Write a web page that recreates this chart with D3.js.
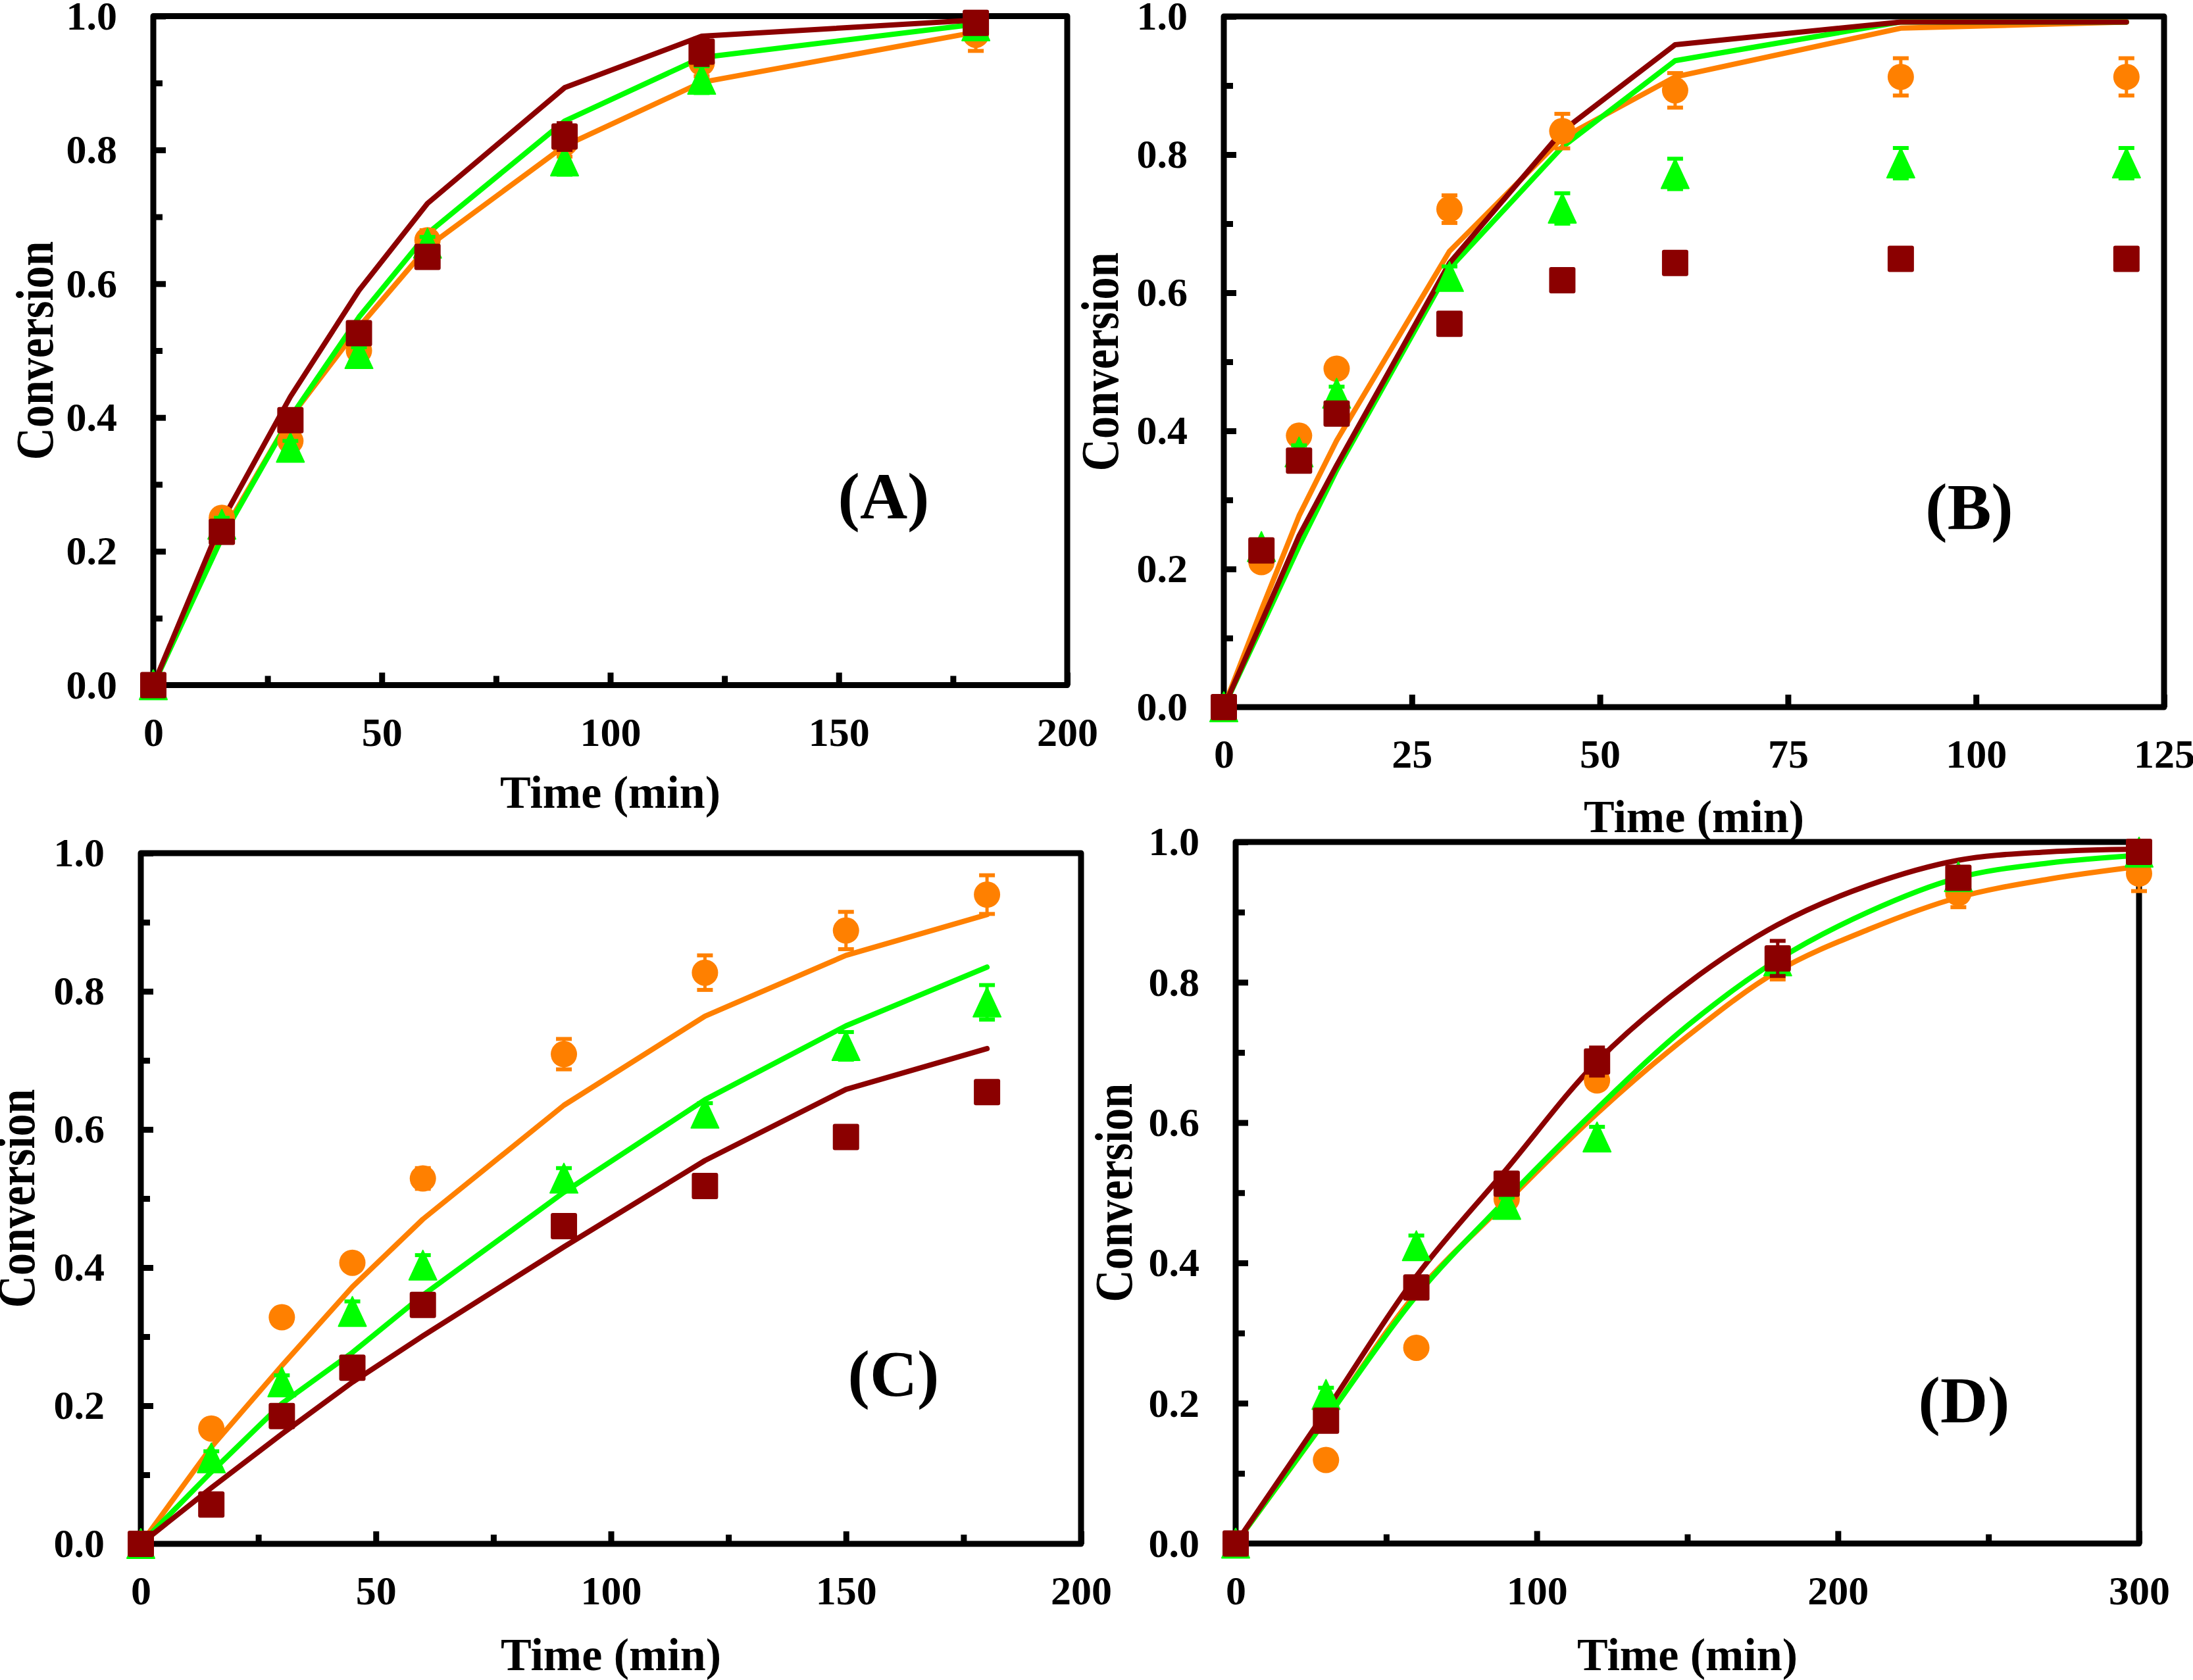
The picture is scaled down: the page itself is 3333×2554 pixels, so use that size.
<!DOCTYPE html>
<html>
<head>
<meta charset="utf-8">
<script src="https://cdn.jsdelivr.net/npm/d3@7"></script>
<style>
  html, body { margin: 0; padding: 0; background: #ffffff; }
  svg { display: block; }
  text { font-family: "Liberation Serif", "Times New Roman", serif; font-weight: bold; fill: #000; }
</style>
</head>
<body>
<svg id="chart" width="3333" height="2554"></svg>
<script>
// ---------------- DATA ----------------
const seriesNames = ["orange", "green", "darkred"];
const seriesColors = ["#FF8000", "#00FF00", "#8B0000"];
const yTickLabels = ["0.0", "0.2", "0.4", "0.6", "0.8", "1.0"];

// Panel A
const timeA = [0, 15, 30, 45, 60, 90, 120, 180];
const dataA_orange  = [0, 0.250, 0.365, 0.500, 0.665, 0.810, 0.930, 0.972];
const errA_orange   = [0, 0.010, 0.010, 0.010, 0.015, 0.020, 0.020, 0.024];
const dataA_green   = [0, 0.240, 0.355, 0.495, 0.660, 0.783, 0.905, 0.985];
const errA_green    = [0, 0.010, 0.010, 0.010, 0.010, 0.020, 0.020, 0.010];
const dataA_darkred = [0, 0.229, 0.396, 0.526, 0.640, 0.820, 0.947, 0.990];
const errA_darkred  = [0, 0.010, 0.010, 0.010, 0.012, 0.020, 0.020, 0.010];
const modelA_orange  = [0, 0.225, 0.400, 0.535, 0.655, 0.806, 0.901, 0.976];
const modelA_green   = [0, 0.220, 0.400, 0.550, 0.675, 0.843, 0.938, 0.988];
const modelA_darkred = [0, 0.245, 0.431, 0.590, 0.720, 0.893, 0.970, 0.994];

// Panel B
const timeB = [0, 5, 10, 15, 30, 45, 60, 90, 120];
const dataB_orange  = [0, 0.210, 0.393, 0.490, 0.721, 0.834, 0.893, 0.9125, 0.9125];
const errB_orange   = [0, 0.010, 0.010, 0.010, 0.020, 0.025, 0.025, 0.027, 0.027];
const dataB_green   = [0, 0.232, 0.369, 0.454, 0.623, 0.722, 0.772, 0.7875, 0.7875];
const errB_green    = [0, 0.010, 0.010, 0.010, 0.015, 0.022, 0.022, 0.022, 0.022];
const dataB_darkred = [0, 0.227, 0.357, 0.425, 0.555, 0.618, 0.643, 0.649, 0.649];
const errB_darkred  = [0, 0.005, 0.005, 0.005, 0.005, 0.010, 0.010, 0.010, 0.010];
const modelB_orange  = [0, 0.141, 0.277, 0.386, 0.660, 0.824, 0.9125, 0.983, 0.992];
const modelB_green   = [0, 0.116, 0.233, 0.343, 0.635, 0.811, 0.936, 0.992, 0.992];
const modelB_darkred = [0, 0.123, 0.248, 0.350, 0.643, 0.834, 0.959, 0.992, 0.992];

// Panel C
const timeC = [0, 15, 30, 45, 60, 90, 120, 150, 180];
const dataC_orange  = [0, 0.167, 0.328, 0.407, 0.529, 0.709, 0.827, 0.888, 0.940];
const errC_orange   = [0, 0.005, 0.005, 0.005, 0.015, 0.022, 0.025, 0.027, 0.028];
const dataC_green   = [0, 0.124, 0.234, 0.336, 0.403, 0.529, 0.623, 0.721, 0.784];
const errC_green    = [0, 0.010, 0.010, 0.015, 0.015, 0.015, 0.015, 0.020, 0.025];
const dataC_darkred = [0, 0.057, 0.185, 0.255, 0.346, 0.460, 0.518, 0.589, 0.654];
const errC_darkred  = [0, 0.005, 0.005, 0.005, 0.005, 0.005, 0.005, 0.010, 0.015];
const modelC_orange  = [0, 0.140, 0.258, 0.372, 0.470, 0.635, 0.764, 0.852, 0.911];
const modelC_green   = [0, 0.104, 0.203, 0.277, 0.360, 0.509, 0.643, 0.750, 0.835];
const modelC_darkred = [0, 0.081, 0.159, 0.234, 0.301, 0.430, 0.555, 0.658, 0.717];

// Panel D
const timeD = [0, 30, 60, 90, 120, 180, 240, 300];
const dataD_orange  = [0, 0.119, 0.279, 0.491, 0.660, 0.824, 0.927, 0.955];
const errD_orange   = [0, 0.005, 0.005, 0.010, 0.010, 0.020, 0.020, 0.025];
const dataD_green   = [0, 0.212, 0.424, 0.483, 0.579, 0.830, 0.950, 0.985];
const errD_green    = [0, 0.010, 0.015, 0.010, 0.015, 0.010, 0.010, 0.010];
const dataD_darkred = [0, 0.175, 0.365, 0.513, 0.687, 0.834, 0.949, 0.986];
const errD_darkred  = [0, 0.005, 0.005, 0.010, 0.020, 0.025, 0.015, 0.010];
const modelTimeD = [0, 30, 60, 90, 120, 150, 180, 210, 240, 270, 300];
const modelD_orange  = [0, 0.177, 0.357, 0.487, 0.613, 0.723, 0.816, 0.875, 0.921, 0.947, 0.965];
const modelD_green   = [0, 0.177, 0.353, 0.491, 0.620, 0.738, 0.832, 0.900, 0.949, 0.970, 0.981];
const modelD_darkred = [0, 0.189, 0.381, 0.534, 0.687, 0.798, 0.882, 0.938, 0.974, 0.986, 0.990];

const panelLabels = ["(A)", "(B)", "(C)", "(D)"];
const xTicksA = [0, 50, 100, 150, 200];
const xTicksB = [0, 25, 50, 75, 100, 125];
const xTicksC = [0, 50, 100, 150, 200];
const xTicksD = [0, 100, 200, 300];

// ---------------- LAYOUT ----------------
const panels = [
  { label: panelLabels[0], l: 233, r: 1622, t: 24.5, b: 1041.5, xmax: 200, xTicks: xTicksA, xMinorStep: 25,
    time: timeA, modelTime: timeA, curve: d3.curveLinear,
    data: [dataA_orange, dataA_green, dataA_darkred], err: [errA_orange, errA_green, errA_darkred],
    model: [modelA_orange, modelA_green, modelA_darkred],
    labelPos: [1343, 788], convX: 80, timeDy: 186 },
  { label: panelLabels[1], l: 1860, r: 3289, t: 25, b: 1075, xmax: 125, xTicks: xTicksB, xMinorStep: 25,
    time: timeB, modelTime: timeB, curve: d3.curveLinear,
    data: [dataB_orange, dataB_green, dataB_darkred], err: [errB_orange, errB_green, errB_darkred],
    model: [modelB_orange, modelB_green, modelB_darkred],
    labelPos: [2993, 804], convX: 1699, timeDy: 190 },
  { label: panelLabels[2], l: 214, r: 1643, t: 1297, b: 2347, xmax: 200, xTicks: xTicksC, xMinorStep: 25,
    time: timeC, modelTime: timeC, curve: d3.curveLinear,
    data: [dataC_orange, dataC_green, dataC_darkred], err: [errC_orange, errC_green, errC_darkred],
    model: [modelC_orange, modelC_green, modelC_darkred],
    labelPos: [1358, 2122], convX: 52, timeDy: 192 },
  { label: panelLabels[3], l: 1878, r: 3251, t: 1280, b: 2346.5, xmax: 300, xTicks: xTicksD, xMinorStep: 50,
    time: timeD, modelTime: modelTimeD, curve: d3.curveCatmullRom.alpha(0.5),
    data: [dataD_orange, dataD_green, dataD_darkred], err: [errD_orange, errD_green, errD_darkred],
    model: [modelD_orange, modelD_green, modelD_darkred],
    labelPos: [2985, 2162], convX: 1720, timeDy: 192 }
];

const svg = d3.select("#chart");
svg.append("rect").attr("width", 3333).attr("height", 2554).attr("fill", "#fff");

const TICK_FONT = 62, TITLE_FONT = 70, LABEL_FONT = 100;

function trianglePath(cx, cy) {
  return `M${cx},${cy - 23}L${cx + 21},${cy + 22}L${cx - 21},${cy + 22}Z`;
}

panels.forEach(p => {
  const g = svg.append("g");
  const x = d3.scaleLinear().domain([0, p.xmax]).range([p.l, p.r]);
  const y = d3.scaleLinear().domain([0, 1]).range([p.b, p.t]);

  const yMinor = d3.range(1, 10, 2).map(i => i / 10);
  const xMinor = d3.range(0, p.xmax + 0.001, p.xMinorStep).filter(v => !p.xTicks.includes(v));

  const yMinorAxis = g.append("g").attr("transform", `translate(${p.l},0)`)
    .call(d3.axisLeft(y).tickValues(yMinor).tickSize(-14).tickFormat(""));
  const yMajorAxis = g.append("g").attr("transform", `translate(${p.l},0)`)
    .call(d3.axisLeft(y).tickValues(yTickLabels.map(Number)).tickSize(-19).tickPadding(55)
      .tickFormat((d, i) => yTickLabels[i]));
  const xMinorAxis = g.append("g").attr("transform", `translate(0,${p.b})`)
    .call(d3.axisBottom(x).tickValues(xMinor).tickSize(-14).tickFormat(""));
  const xMajorAxis = g.append("g").attr("transform", `translate(0,${p.b})`)
    .call(d3.axisBottom(x).tickValues(p.xTicks).tickSize(-19).tickPadding(48).tickFormat(d3.format("d")));

  [yMinorAxis, yMajorAxis, xMinorAxis, xMajorAxis].forEach(a => {
    a.select(".domain").remove();
    a.selectAll(".tick line").attr("stroke", "#000").attr("stroke-width", 9);
    a.selectAll(".tick text").attr("font-size", TICK_FONT).attr("font-family", null).attr("fill", "#000");
  });

  // frame
  g.append("rect")
    .attr("x", p.l).attr("y", p.t).attr("width", p.r - p.l).attr("height", p.b - p.t)
    .attr("fill", "none").attr("stroke", "#000").attr("stroke-width", 9)
    .attr("stroke-linejoin", "round");

  // model lines
  const line = d3.line().x(d => x(d[0])).y(d => y(d[1])).curve(p.curve);
  p.model.forEach((m, si) => {
    g.append("path")
      .datum(p.modelTime.map((t, i) => [t, m[i]]))
      .attr("d", line)
      .attr("fill", "none")
      .attr("stroke", seriesColors[si])
      .attr("stroke-width", 8)
      .attr("stroke-linecap", "round")
      .attr("stroke-linejoin", "round");
  });

  // data points with error bars
  p.data.forEach((vals, si) => {
    const color = seriesColors[si];
    const pts = p.time.map((t, i) => ({ t, v: vals[i], e: p.err[si][i] }));
    const eg = g.append("g").attr("class", "series-" + seriesNames[si]);
    pts.forEach(d => {
      const cx = x(d.t), cy = y(d.v);
      if (d.e > 0) {
        const y1 = y(d.v + d.e), y2 = y(d.v - d.e);
        eg.append("line").attr("x1", cx).attr("x2", cx).attr("y1", y1).attr("y2", y2)
          .attr("stroke", color).attr("stroke-width", 5);
        [y1, y2].forEach(yy => eg.append("line")
          .attr("x1", cx - 12).attr("x2", cx + 12).attr("y1", yy).attr("y2", yy)
          .attr("stroke", color).attr("stroke-width", 6));
      }
      if (si === 0) {
        eg.append("circle").attr("cx", cx).attr("cy", cy).attr("r", 20).attr("fill", color);
      } else if (si === 1) {
        eg.append("path").attr("d", trianglePath(cx, cy)).attr("fill", color)
          .attr("stroke", color).attr("stroke-width", 2).attr("stroke-linejoin", "round");
      } else {
        eg.append("rect").attr("x", cx - 20).attr("y", cy - 20).attr("width", 40).attr("height", 40)
          .attr("rx", 3).attr("fill", color);
      }
    });
  });

  // axis titles
  g.append("text")
    .attr("x", (p.l + p.r) / 2).attr("y", p.b + p.timeDy)
    .attr("text-anchor", "middle").attr("font-size", TITLE_FONT)
    .text("Time (min)");
  g.append("text")
    .attr("transform", `translate(${p.convX},${(p.t + p.b) / 2}) rotate(-90) scale(0.85,1)`)
    .attr("text-anchor", "middle").attr("font-size", 80)
    .text("Conversion");

  // panel label
  g.append("text")
    .attr("x", p.labelPos[0]).attr("y", p.labelPos[1])
    .attr("text-anchor", "middle").attr("font-size", LABEL_FONT)
    .text(p.label);
});
</script>
</body>
</html>
